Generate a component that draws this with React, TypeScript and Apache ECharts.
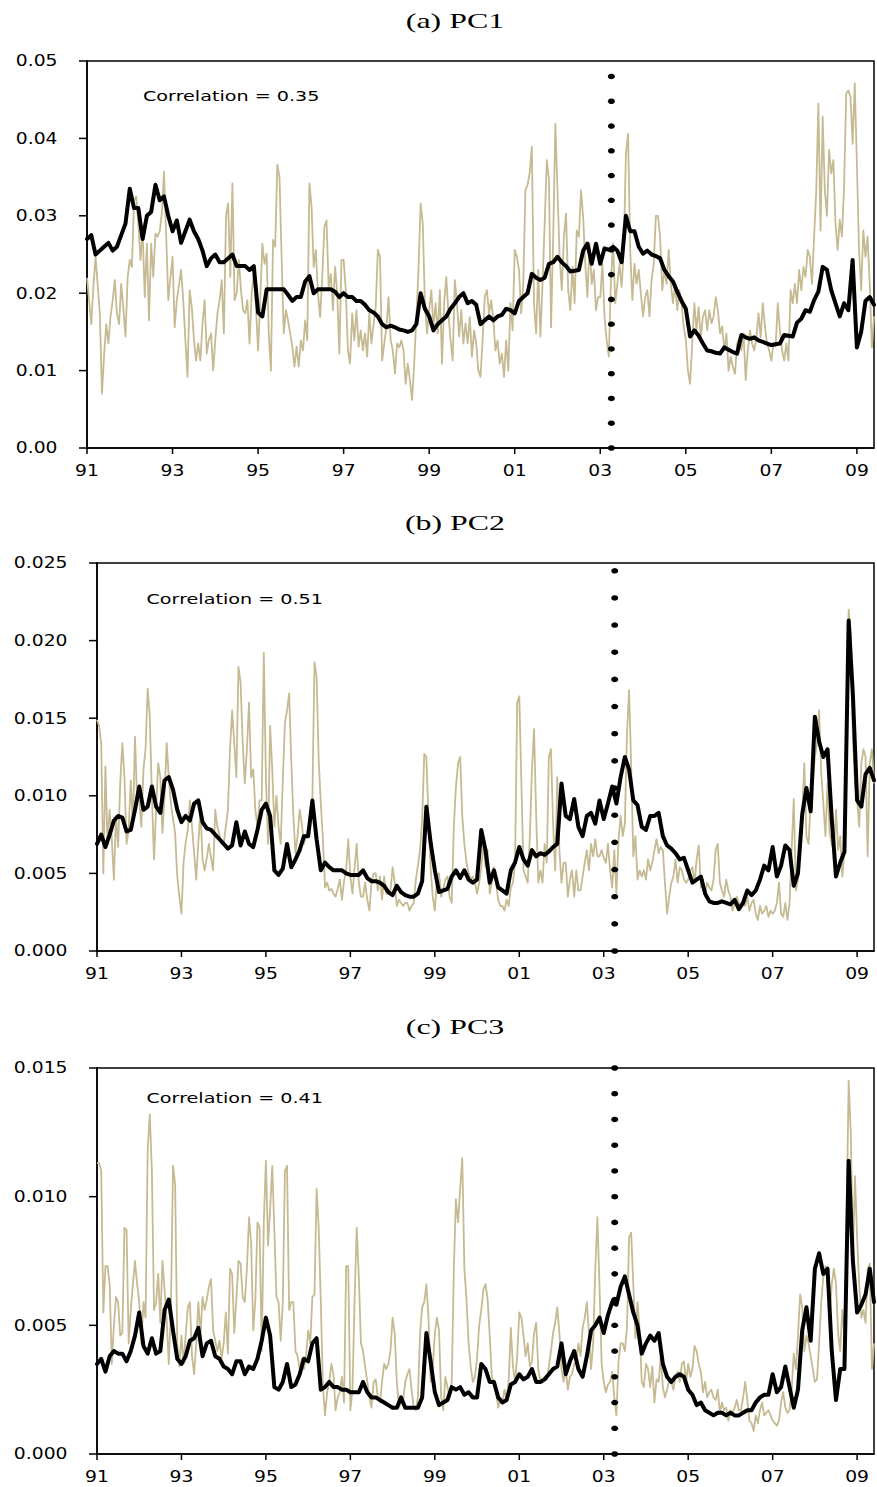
import React, { useEffect, useRef } from "react";
import * as echarts from "echarts";

// ---------- data ----------
// x is measured in years since 1991 (axis runs 1991.0 .. 2009.4)
const X_MAX = 18.4;
const TAN_STEP = 0.05; // tan series: one value every 0.05 year
const BLACK_STEP = 0.1; // black series: one value every 0.1 year
const EVENT_X = 12.26; // dotted vertical line, ~2003.26

const X_TICKS = [0, 2, 4, 6, 8, 10, 12, 14, 16, 18];
const X_TICK_LABELS = ["91", "93", "95", "97", "99", "01", "03", "05", "07", "09"];

const PC1_Y_TICKS = [0, 0.01, 0.02, 0.03, 0.04, 0.05];
const PC1_Y_LABELS = ["0.00", "0.01", "0.02", "0.03", "0.04", "0.05"];
const PC2_Y_TICKS = [0, 0.005, 0.01, 0.015, 0.02, 0.025];
const PC2_Y_LABELS = ["0.000", "0.005", "0.010", "0.015", "0.020", "0.025"];
const PC3_Y_TICKS = [0, 0.005, 0.01, 0.015];
const PC3_Y_LABELS = ["0.000", "0.005", "0.010", "0.015"];

const PC1_DOTS = [0, 0.0032, 0.0064, 0.0096, 0.0128, 0.016, 0.0192, 0.0224, 0.0256, 0.0288, 0.032, 0.0352, 0.0384, 0.0416, 0.0448, 0.048];
const PC2_DOTS = [0, 0.00175, 0.0035, 0.00525, 0.007, 0.00875, 0.0105, 0.01225, 0.014, 0.01575, 0.0175, 0.01925, 0.021, 0.02275, 0.0245];
const PC3_DOTS = [0, 0.001, 0.002, 0.003, 0.004, 0.005, 0.006, 0.007, 0.008, 0.009, 0.01, 0.011, 0.012, 0.013, 0.014, 0.015];

const PC1_BLACK = [
  0.027, 0.0275, 0.025, 0.0255, 0.026, 0.0265, 0.0255, 0.026, 0.0275, 0.029, // 1991
  0.0335, 0.031, 0.031, 0.027, 0.03, 0.0305, 0.034, 0.032, 0.0325, 0.03, // 1992
  0.028, 0.0294, 0.0265, 0.028, 0.0295, 0.028, 0.027, 0.0255, 0.0235, 0.0245, // 1993
  0.025, 0.024, 0.024, 0.0245, 0.025, 0.0235, 0.0235, 0.0235, 0.023, 0.0235, // 1994
  0.0175, 0.017, 0.0205, 0.0205, 0.0205, 0.0205, 0.0205, 0.0198, 0.019, 0.0195, // 1995
  0.0195, 0.0215, 0.0222, 0.02, 0.0205, 0.0205, 0.0205, 0.0205, 0.0202, 0.0195, // 1996
  0.02, 0.0195, 0.0195, 0.019, 0.019, 0.0185, 0.0178, 0.0175, 0.017, 0.016, // 1997
  0.0156, 0.0158, 0.0156, 0.0153, 0.0152, 0.015, 0.0152, 0.016, 0.02, 0.018, // 1998
  0.017, 0.0152, 0.016, 0.0165, 0.017, 0.018, 0.0187, 0.0195, 0.02, 0.0187, // 1999
  0.019, 0.0185, 0.016, 0.0165, 0.017, 0.0165, 0.017, 0.0172, 0.018, 0.0178, // 2000
  0.0174, 0.019, 0.0195, 0.02, 0.0225, 0.022, 0.0217, 0.022, 0.0238, 0.024, // 2001
  0.0247, 0.024, 0.0235, 0.0228, 0.0229, 0.023, 0.0255, 0.0264, 0.0238, 0.0264, // 2002
  0.0238, 0.0258, 0.0256, 0.026, 0.0255, 0.024, 0.03, 0.028, 0.028, 0.026, // 2003
  0.0251, 0.0255, 0.025, 0.0248, 0.0245, 0.023, 0.0222, 0.0215, 0.0202, 0.019, // 2004
  0.018, 0.0144, 0.0152, 0.0145, 0.0135, 0.0126, 0.0125, 0.0123, 0.0122, 0.013, // 2005
  0.0127, 0.0124, 0.0122, 0.0146, 0.0143, 0.0141, 0.0143, 0.0139, 0.0137, 0.0135, // 2006
  0.0133, 0.0134, 0.0135, 0.0146, 0.0145, 0.0144, 0.0162, 0.0167, 0.0178, 0.0176, // 2007
  0.0191, 0.0202, 0.0234, 0.023, 0.0204, 0.0187, 0.017, 0.0187, 0.0178, 0.0243, // 2008
  0.013, 0.015, 0.019, 0.0195, 0.0185, // 2009
];

const PC1_TAN = [
  0.022, 0.019, 0.016, 0.021, 0.0247, 0.021, 0.0174, 0.007, 0.012, 0.016, 0.0135, 0.017, 0.019, 0.0217, 0.0174, 0.016, 0.0212, 0.018, 0.0144, 0.022, // 1991
  0.0243, 0.0234, 0.032, 0.0325, 0.029, 0.0243, 0.0281, 0.0195, 0.0264, 0.0165, 0.0264, 0.0221, 0.0277, 0.0273, 0.028, 0.0303, 0.0357, 0.0277, 0.0191, 0.022, // 1992
  0.0247, 0.0156, 0.0191, 0.021, 0.023, 0.0191, 0.0139, 0.0092, 0.0204, 0.0182, 0.014, 0.0113, 0.0135, 0.0113, 0.016, 0.0191, 0.0122, 0.014, 0.0148, 0.01, // 1993
  0.014, 0.0174, 0.0191, 0.0217, 0.0148, 0.0299, 0.0316, 0.0221, 0.0342, 0.0191, 0.02, 0.0243, 0.0204, 0.0178, 0.0174, 0.0191, 0.0135, 0.02, 0.0225, 0.0182, // 1994
  0.0126, 0.019, 0.0264, 0.0238, 0.0251, 0.0148, 0.01, 0.0269, 0.026, 0.0366, 0.035, 0.0247, 0.0148, 0.0178, 0.0165, 0.0148, 0.0131, 0.0105, 0.0131, 0.0105, // 1995
  0.0139, 0.0126, 0.0165, 0.0139, 0.0342, 0.0312, 0.0234, 0.0256, 0.02, 0.0169, 0.0221, 0.0286, 0.0294, 0.0208, 0.0225, 0.0178, 0.0234, 0.02, 0.0122, 0.0243, // 1996
  0.0243, 0.0204, 0.0126, 0.0109, 0.0174, 0.0139, 0.0178, 0.0131, 0.0152, 0.0126, 0.0148, 0.0118, 0.0174, 0.0135, 0.016, 0.0182, 0.0256, 0.0247, 0.0113, 0.0135, // 1997
  0.0156, 0.0195, 0.0139, 0.0126, 0.0096, 0.0135, 0.013, 0.0139, 0.0126, 0.0083, 0.0109, 0.0088, 0.0062, 0.0109, 0.0169, 0.023, 0.0316, 0.029, 0.0187, 0.0148, // 1998
  0.0178, 0.0204, 0.0156, 0.0187, 0.0148, 0.0204, 0.0109, 0.0187, 0.0221, 0.0174, 0.0139, 0.0113, 0.0217, 0.0187, 0.0144, 0.0178, 0.0135, 0.0161, 0.0135, 0.0169, // 1999
  0.0118, 0.0152, 0.0135, 0.01, 0.0092, 0.014, 0.0195, 0.0204, 0.0174, 0.0191, 0.0165, 0.0126, 0.0139, 0.0109, 0.0122, 0.0092, 0.0139, 0.01, 0.0187, 0.0152, // 2000
  0.0256, 0.0247, 0.023, 0.0174, 0.0212, 0.0333, 0.034, 0.0355, 0.0389, 0.0187, 0.0148, 0.023, 0.0144, 0.0212, 0.029, 0.0372, 0.0346, 0.0156, 0.0273, 0.0419, // 2001
  0.0333, 0.0247, 0.0204, 0.0273, 0.0303, 0.0204, 0.0178, 0.0234, 0.0187, 0.0281, 0.0273, 0.0333, 0.0299, 0.0238, 0.0195, 0.0264, 0.0212, 0.023, 0.0178, 0.0195, // 2002
  0.0195, 0.0238, 0.0169, 0.0139, 0.0118, 0.0217, 0.0264, 0.0187, 0.0212, 0.0238, 0.0208, 0.0256, 0.0381, 0.0406, 0.0256, 0.0191, 0.0238, 0.0212, 0.023, 0.0199, // 2003
  0.017, 0.0195, 0.0204, 0.017, 0.0217, 0.0238, 0.03, 0.03, 0.0273, 0.0204, 0.023, 0.0212, 0.0256, 0.0212, 0.0187, 0.0212, 0.0178, 0.0204, 0.0187, 0.0157, // 2004
  0.014, 0.01, 0.0083, 0.0135, 0.0187, 0.0152, 0.0182, 0.0143, 0.017, 0.0178, 0.0152, 0.0178, 0.0161, 0.017, 0.0195, 0.0178, 0.0148, 0.0157, 0.0126, 0.0148, // 2005
  0.01, 0.0118, 0.0105, 0.0096, 0.0135, 0.0143, 0.0126, 0.0148, 0.0088, 0.0126, 0.0152, 0.0135, 0.0126, 0.0143, 0.0174, 0.0143, 0.0187, 0.0157, 0.0135, 0.0126, // 2006
  0.0113, 0.0135, 0.0131, 0.0187, 0.0152, 0.0126, 0.0113, 0.0135, 0.0113, 0.0204, 0.0187, 0.0212, 0.0187, 0.023, 0.0204, 0.0234, 0.0221, 0.0256, 0.0247, 0.0212, // 2007
  0.0273, 0.0333, 0.0445, 0.0281, 0.0428, 0.0333, 0.03, 0.0385, 0.0355, 0.0372, 0.029, 0.0256, 0.0295, 0.0273, 0.0337, 0.0458, 0.0462, 0.0454, 0.0393, 0.0471, // 2008
  0.0368, 0.0256, 0.0204, 0.0281, 0.0247, 0.0273, 0.0212, 0.013, 0.017, // 2009
];

const PC2_BLACK = [
  0.0069, 0.0075, 0.0067, 0.0075, 0.0084, 0.0087, 0.0086, 0.0077, 0.0078, 0.0091, // 1991
  0.0106, 0.0091, 0.0093, 0.0106, 0.0093, 0.0089, 0.011, 0.0112, 0.0104, 0.0091, // 1992
  0.0083, 0.0087, 0.0084, 0.0095, 0.0097, 0.0083, 0.0079, 0.0078, 0.0075, 0.0072, // 1993
  0.0069, 0.0066, 0.0068, 0.0083, 0.0068, 0.0077, 0.0069, 0.0067, 0.0078, 0.0091, // 1994
  0.0095, 0.0087, 0.0052, 0.0049, 0.0053, 0.0069, 0.0054, 0.0059, 0.0065, 0.0074, // 1995
  0.0074, 0.0097, 0.0072, 0.0052, 0.0057, 0.0054, 0.0052, 0.0052, 0.0052, 0.005, // 1996
  0.0049, 0.0049, 0.0049, 0.0052, 0.0047, 0.0045, 0.0045, 0.0044, 0.0042, 0.0038, // 1997
  0.0036, 0.0042, 0.0038, 0.0036, 0.0035, 0.0035, 0.0037, 0.0045, 0.0093, 0.007, // 1998
  0.0052, 0.0038, 0.0039, 0.004, 0.0048, 0.0052, 0.0047, 0.0052, 0.0046, 0.0044, // 1999
  0.0046, 0.0078, 0.0065, 0.0044, 0.0052, 0.0041, 0.0039, 0.0037, 0.0052, 0.0057, // 2000
  0.0067, 0.0059, 0.0055, 0.0065, 0.0061, 0.0063, 0.0062, 0.0064, 0.0067, 0.0069, // 2001
  0.0108, 0.0087, 0.0085, 0.0098, 0.008, 0.0074, 0.0087, 0.0089, 0.0082, 0.0097, // 2002
  0.0085, 0.0095, 0.0106, 0.0095, 0.0112, 0.0125, 0.0117, 0.0097, 0.0094, 0.008, // 2003
  0.0078, 0.0087, 0.0087, 0.0089, 0.0074, 0.0068, 0.0066, 0.0063, 0.0059, 0.006, // 2004
  0.0052, 0.0044, 0.0046, 0.0048, 0.0037, 0.0032, 0.0031, 0.0031, 0.0032, 0.0031, // 2005
  0.003, 0.0033, 0.0027, 0.0031, 0.0039, 0.0036, 0.0039, 0.0046, 0.0055, 0.0052, // 2006
  0.0067, 0.0048, 0.0055, 0.0068, 0.0065, 0.0042, 0.005, 0.0088, 0.0105, 0.009, // 2007
  0.0151, 0.0135, 0.0125, 0.013, 0.0085, 0.0048, 0.0057, 0.0064, 0.0213, 0.0165, // 2008
  0.0097, 0.0093, 0.0114, 0.0118, 0.011, // 2009
];

const PC2_TAN = [
  0.0149, 0.0145, 0.0134, 0.005, 0.0119, 0.0069, 0.0091, 0.0072, 0.0046, 0.0087, 0.0067, 0.0108, 0.0134, 0.0112, 0.0069, 0.0078, 0.011, 0.008, 0.0138, 0.0097, // 1991
  0.0097, 0.008, 0.0117, 0.013, 0.0169, 0.0151, 0.01, 0.0059, 0.0091, 0.0121, 0.0112, 0.0076, 0.01, 0.0134, 0.0112, 0.0095, 0.0085, 0.0076, 0.0048, 0.0035, // 1992
  0.0024, 0.0057, 0.007, 0.0078, 0.0097, 0.008, 0.0063, 0.0046, 0.007, 0.0091, 0.0059, 0.0052, 0.006, 0.0069, 0.006, 0.0052, 0.0091, 0.008, 0.0075, 0.0069, // 1993
  0.0069, 0.008, 0.0091, 0.013, 0.0155, 0.0134, 0.0112, 0.0183, 0.0173, 0.0134, 0.0108, 0.013, 0.016, 0.0112, 0.0117, 0.0091, 0.008, 0.0097, 0.0097, 0.0192, // 1994
  0.0112, 0.0069, 0.0145, 0.0117, 0.008, 0.01, 0.008, 0.0069, 0.011, 0.0147, 0.0155, 0.0166, 0.0123, 0.0087, 0.0063, 0.0074, 0.0091, 0.0082, 0.0069, 0.0074, // 1995
  0.008, 0.008, 0.0097, 0.0186, 0.0177, 0.0123, 0.0095, 0.0072, 0.0041, 0.0044, 0.0039, 0.004, 0.0037, 0.0035, 0.004, 0.0046, 0.0033, 0.0045, 0.0052, 0.0072, // 1996
  0.0048, 0.0037, 0.0054, 0.0069, 0.0044, 0.0035, 0.0035, 0.0044, 0.0033, 0.0026, 0.0044, 0.005, 0.005, 0.0039, 0.0048, 0.0033, 0.0048, 0.0037, 0.0037, 0.0039, // 1997
  0.0054, 0.0044, 0.0029, 0.0033, 0.0031, 0.0029, 0.0031, 0.0031, 0.0026, 0.0029, 0.0031, 0.0046, 0.0055, 0.0065, 0.0085, 0.0127, 0.0125, 0.0087, 0.0054, 0.0035, // 1998
  0.0026, 0.0046, 0.005, 0.0035, 0.004, 0.0046, 0.0048, 0.0035, 0.0031, 0.008, 0.0106, 0.0121, 0.0125, 0.0087, 0.0069, 0.0057, 0.005, 0.0046, 0.0048, 0.0044, // 1999
  0.0037, 0.0044, 0.0054, 0.0069, 0.0054, 0.0065, 0.0037, 0.0044, 0.0054, 0.0044, 0.0033, 0.0029, 0.0029, 0.0026, 0.0033, 0.0029, 0.0041, 0.0044, 0.0057, 0.016, // 2000
  0.0164, 0.0108, 0.0052, 0.0048, 0.0044, 0.0074, 0.0117, 0.0143, 0.0087, 0.0044, 0.0052, 0.0044, 0.0069, 0.0057, 0.0125, 0.013, 0.0082, 0.0052, 0.0112, 0.0065, // 2001
  0.0044, 0.0057, 0.0057, 0.0035, 0.0046, 0.0052, 0.0035, 0.0052, 0.0039, 0.0039, 0.0048, 0.0057, 0.0065, 0.0052, 0.0069, 0.0061, 0.0072, 0.0061, 0.0061, 0.0065, // 2002
  0.006, 0.0057, 0.0069, 0.0052, 0.0041, 0.0065, 0.0037, 0.0072, 0.0087, 0.0074, 0.0082, 0.014, 0.0168, 0.0119, 0.0061, 0.0074, 0.0046, 0.0052, 0.0048, 0.0052, // 2003
  0.0046, 0.0059, 0.0052, 0.0057, 0.0065, 0.0072, 0.0063, 0.0067, 0.0065, 0.0044, 0.0024, 0.0035, 0.0044, 0.0048, 0.0059, 0.0044, 0.0054, 0.0052, 0.0046, 0.0044, // 2004
  0.0046, 0.0052, 0.0054, 0.0044, 0.0059, 0.0068, 0.0041, 0.0046, 0.0035, 0.0044, 0.0041, 0.0039, 0.0046, 0.0065, 0.0069, 0.0044, 0.0039, 0.0035, 0.0046, 0.0039, // 2005
  0.0035, 0.0026, 0.0031, 0.0035, 0.0031, 0.0029, 0.0033, 0.0029, 0.0035, 0.0026, 0.0031, 0.0033, 0.0024, 0.002, 0.0029, 0.0024, 0.0026, 0.0029, 0.0022, 0.0026, // 2006
  0.0024, 0.0026, 0.0031, 0.0044, 0.0024, 0.0022, 0.0031, 0.002, 0.0031, 0.0065, 0.0098, 0.0039, 0.0046, 0.0065, 0.0087, 0.0121, 0.0074, 0.0069, 0.0095, 0.0108, // 2007
  0.0125, 0.0134, 0.0155, 0.0115, 0.0095, 0.0074, 0.0108, 0.0076, 0.0069, 0.0065, 0.0091, 0.0065, 0.0074, 0.0048, 0.0065, 0.0155, 0.022, 0.0205, 0.0138, 0.0108, // 2008
  0.0097, 0.008, 0.0121, 0.013, 0.0125, 0.0061, 0.0121, 0.013, 0.0108, // 2009
];

const PC3_BLACK = [
  0.0035, 0.0037, 0.0032, 0.0038, 0.004, 0.0039, 0.0039, 0.0036, 0.004, 0.0046, // 1991
  0.0055, 0.0042, 0.0039, 0.0045, 0.0039, 0.004, 0.0056, 0.006, 0.0048, 0.0037, // 1992
  0.0035, 0.0038, 0.0044, 0.0045, 0.0049, 0.0038, 0.0043, 0.0044, 0.0038, 0.0037, // 1993
  0.0034, 0.0033, 0.0031, 0.0036, 0.0036, 0.0031, 0.0034, 0.0033, 0.0037, 0.0044, // 1994
  0.0053, 0.0046, 0.0026, 0.0025, 0.0028, 0.0035, 0.0026, 0.0027, 0.0031, 0.0037, // 1995
  0.0036, 0.0043, 0.0045, 0.0025, 0.0026, 0.0028, 0.0026, 0.0026, 0.0025, 0.0025, // 1996
  0.0024, 0.0024, 0.0024, 0.0028, 0.0024, 0.0022, 0.0022, 0.0021, 0.002, 0.0019, // 1997
  0.0018, 0.0018, 0.0022, 0.0018, 0.0018, 0.0018, 0.0018, 0.0022, 0.0047, 0.0036, // 1998
  0.0024, 0.0019, 0.002, 0.0021, 0.0026, 0.0025, 0.0026, 0.0023, 0.0024, 0.0022, // 1999
  0.0022, 0.0035, 0.0033, 0.0028, 0.0028, 0.0022, 0.002, 0.0021, 0.0027, 0.0028, // 2000
  0.0031, 0.0029, 0.003, 0.0033, 0.0028, 0.0028, 0.0029, 0.0031, 0.0033, 0.0034, // 2001
  0.0043, 0.0031, 0.0036, 0.004, 0.0033, 0.003, 0.0038, 0.0048, 0.005, 0.0053, // 2002
  0.0047, 0.0054, 0.0059, 0.0058, 0.0065, 0.0069, 0.0062, 0.0055, 0.005, 0.0039, // 2003
  0.0043, 0.0046, 0.0044, 0.0047, 0.0035, 0.003, 0.0028, 0.003, 0.0031, 0.003, // 2004
  0.0025, 0.0023, 0.0019, 0.002, 0.0017, 0.0016, 0.0015, 0.0016, 0.0016, 0.0015, // 2005
  0.0016, 0.0015, 0.0015, 0.0016, 0.0017, 0.0017, 0.002, 0.0022, 0.0023, 0.0023, // 2006
  0.0031, 0.0024, 0.0026, 0.0034, 0.0026, 0.0018, 0.0025, 0.0048, 0.0057, 0.0044, // 2007
  0.0072, 0.0078, 0.007, 0.0072, 0.004, 0.0021, 0.0033, 0.0033, 0.0114, 0.0075, // 2008
  0.0055, 0.0058, 0.0062, 0.0072, 0.0059, // 2009
];

const PC3_TAN = [
  0.0113, 0.0113, 0.011, 0.0055, 0.0073, 0.0073, 0.0066, 0.0035, 0.005, 0.0061, 0.0059, 0.0046, 0.0047, 0.0088, 0.0087, 0.0043, 0.0056, 0.0066, 0.0075, 0.0066, // 1991
  0.0059, 0.0043, 0.0059, 0.0053, 0.0118, 0.0132, 0.011, 0.0056, 0.0059, 0.007, 0.0051, 0.0075, 0.0064, 0.0052, 0.0035, 0.0056, 0.0112, 0.0105, 0.0043, 0.0034, // 1992
  0.0046, 0.0035, 0.0046, 0.0057, 0.0059, 0.0038, 0.0031, 0.0043, 0.0059, 0.0046, 0.0061, 0.0056, 0.006, 0.0065, 0.0068, 0.0048, 0.0044, 0.004, 0.0044, 0.0037, // 1993
  0.0043, 0.0055, 0.0039, 0.0072, 0.007, 0.0047, 0.006, 0.0075, 0.0074, 0.0061, 0.0059, 0.0072, 0.0092, 0.0082, 0.0048, 0.006, 0.009, 0.0088, 0.004, 0.009, // 1994
  0.0114, 0.0081, 0.0095, 0.0112, 0.0087, 0.0061, 0.0059, 0.0044, 0.0059, 0.011, 0.0112, 0.0056, 0.0059, 0.0059, 0.004, 0.0038, 0.0033, 0.0037, 0.0033, 0.0038, // 1995
  0.0048, 0.0043, 0.0061, 0.0062, 0.0103, 0.0088, 0.0059, 0.0026, 0.0015, 0.0024, 0.0028, 0.0035, 0.0031, 0.0017, 0.0022, 0.0024, 0.003, 0.002, 0.0073, 0.0073, // 1996
  0.0017, 0.0025, 0.006, 0.0088, 0.0069, 0.0043, 0.004, 0.0034, 0.0028, 0.0022, 0.0018, 0.0028, 0.0029, 0.0022, 0.002, 0.0028, 0.0035, 0.0033, 0.0035, 0.004, // 1997
  0.0053, 0.0047, 0.0028, 0.0018, 0.002, 0.0021, 0.0028, 0.0031, 0.0033, 0.0025, 0.0018, 0.0017, 0.0022, 0.0047, 0.0057, 0.0059, 0.0066, 0.0053, 0.0028, 0.0033, // 1998
  0.0047, 0.0053, 0.0048, 0.0022, 0.0017, 0.003, 0.0026, 0.0022, 0.0028, 0.0072, 0.0099, 0.009, 0.0103, 0.0115, 0.0072, 0.006, 0.0043, 0.0034, 0.0028, 0.003, // 1999
  0.0037, 0.005, 0.0056, 0.0064, 0.0066, 0.006, 0.0046, 0.003, 0.0028, 0.0024, 0.0018, 0.0021, 0.002, 0.0025, 0.0021, 0.0029, 0.0049, 0.0034, 0.0028, 0.0038, // 2000
  0.0055, 0.0053, 0.0046, 0.0038, 0.0043, 0.0034, 0.0036, 0.0047, 0.0051, 0.0033, 0.0028, 0.0029, 0.003, 0.0029, 0.0034, 0.004, 0.0047, 0.0051, 0.0057, 0.0047, // 2001
  0.0033, 0.0028, 0.0033, 0.0025, 0.003, 0.0031, 0.0035, 0.0036, 0.0043, 0.0038, 0.0049, 0.0053, 0.0059, 0.0047, 0.0033, 0.0043, 0.0072, 0.0092, 0.0065, 0.0035, // 2002
  0.0028, 0.0024, 0.0027, 0.0028, 0.0032, 0.0022, 0.0015, 0.0036, 0.0043, 0.0043, 0.004, 0.0049, 0.0084, 0.0086, 0.0066, 0.0045, 0.0059, 0.0048, 0.0028, 0.0026, // 2003
  0.0035, 0.0033, 0.0026, 0.0034, 0.002, 0.0029, 0.0028, 0.0038, 0.0026, 0.0022, 0.0025, 0.0029, 0.0028, 0.0025, 0.003, 0.0032, 0.0028, 0.0035, 0.0036, 0.0028, // 2004
  0.0035, 0.003, 0.0033, 0.0042, 0.004, 0.0035, 0.0032, 0.0024, 0.0028, 0.0022, 0.0024, 0.0025, 0.0022, 0.0021, 0.0025, 0.0016, 0.002, 0.0017, 0.0018, 0.0013, // 2005
  0.0017, 0.0016, 0.0018, 0.0021, 0.0017, 0.0017, 0.0022, 0.0028, 0.0021, 0.0013, 0.0012, 0.0009, 0.0015, 0.0012, 0.0017, 0.002, 0.0015, 0.0016, 0.0017, 0.0015, // 2006
  0.0013, 0.0012, 0.0011, 0.0013, 0.002, 0.0024, 0.0018, 0.0016, 0.0017, 0.0025, 0.0039, 0.0033, 0.0046, 0.0062, 0.0057, 0.004, 0.0046, 0.0043, 0.0038, 0.0033, // 2007
  0.0028, 0.0029, 0.0043, 0.0059, 0.0069, 0.0073, 0.0066, 0.0053, 0.0066, 0.0072, 0.0066, 0.0047, 0.004, 0.0056, 0.0046, 0.009, 0.0145, 0.0125, 0.0077, 0.0108, // 2008
  0.0084, 0.0066, 0.0053, 0.0056, 0.0051, 0.0072, 0.0074, 0.0033, 0.0043, // 2009
];

// ---------- styles / layout ----------
const TAN = "#c6ba93";
const INK = "#000000";

const PANELS = [
  {
    title: "(a) PC1", corr: "Correlation = 0.35",
    grid: { left: 87, top: 61, width: 787, height: 387 },
    yMax: 0.05, yInterval: 0.01, yTicks: PC1_Y_TICKS, yLabels: PC1_Y_LABELS,
    tan: PC1_TAN, black: PC1_BLACK, dots: PC1_DOTS,
    titleY: 20.5, corrX: 143, corrY: 97,
  },
  {
    title: "(b) PC2", corr: "Correlation = 0.51",
    grid: { left: 97, top: 563, width: 777, height: 388 },
    yMax: 0.025, yInterval: 0.005, yTicks: PC2_Y_TICKS, yLabels: PC2_Y_LABELS,
    tan: PC2_TAN, black: PC2_BLACK, dots: PC2_DOTS,
    titleY: 523, corrX: 146.5, corrY: 600,
  },
  {
    title: "(c) PC3", corr: "Correlation = 0.41",
    grid: { left: 97, top: 1068, width: 777, height: 386 },
    yMax: 0.015, yInterval: 0.005, yTicks: PC3_Y_TICKS, yLabels: PC3_Y_LABELS,
    tan: PC3_TAN, black: PC3_BLACK, dots: PC3_DOTS,
    titleY: 1027, corrX: 146.5, corrY: 1098.5,
  },
];

const LABEL_FONT = "DejaVu Sans";
const SCALE_X = 1.25;

export default function App() {
  const ref = useRef<HTMLDivElement>(null);

  useEffect(() => {
    if (!ref.current) return;
    const chart = echarts.init(ref.current, null, { renderer: "svg" });

    const grid = PANELS.map((p) => ({
      ...p.grid,
      show: true,
      borderColor: INK,
      borderWidth: 1.5,
      backgroundColor: "transparent",
      containLabel: false,
    }));

    const xAxis = PANELS.map((_, i) => ({
      type: "value",
      gridIndex: i,
      min: 0,
      max: X_MAX,
      interval: 2,
      axisLine: { show: true, onZero: false, lineStyle: { color: INK, width: 1.5 } },
      axisTick: { show: false },
      axisLabel: { show: false },
      splitLine: { show: false },
    }));

    const yAxis = PANELS.map((p, i) => ({
      type: "value",
      gridIndex: i,
      min: 0,
      max: p.yMax,
      interval: p.yInterval,
      axisLine: { show: true, onZero: false, lineStyle: { color: INK, width: 1.5 } },
      axisTick: { show: false },
      axisLabel: { show: false },
      splitLine: { show: false },
    }));

    const series: any[] = [];
    PANELS.forEach((p, i) => {
      series.push({
        type: "line",
        xAxisIndex: i,
        yAxisIndex: i,
        data: p.tan.map((v, k) => [k * TAN_STEP, v]),
        symbol: "none",
        lineStyle: { color: TAN, width: 1.8, join: "round" },
        z: 2,
        silent: true,
      });
      series.push({
        type: "line",
        xAxisIndex: i,
        yAxisIndex: i,
        data: p.black.map((v, k) => [k * BLACK_STEP, v]),
        symbol: "none",
        lineStyle: { color: INK, width: 4, join: "round", cap: "round" },
        z: 3,
        silent: true,
      });
      series.push({
        type: "scatter",
        xAxisIndex: i,
        yAxisIndex: i,
        data: p.dots.map((v) => [EVENT_X, v]),
        symbol: "circle",
        symbolSize: [7, 5.5],
        itemStyle: { color: INK, opacity: 1 },
        z: 4,
        silent: true,
        clip: false,
      });
    });

    chart.setOption({
      animation: false,
      backgroundColor: "#ffffff",
      grid,
      xAxis,
      yAxis,
      series,
    });

    // texts and tick marks positioned through the chart's own scales
    const graphic: any[] = [];
    PANELS.forEach((p, i) => {
      const finder = { gridIndex: i };
      p.yTicks.forEach((v, k) => {
        const pt = chart.convertToPixel(finder as any, [0, v]) as number[];
        graphic.push({
          type: "line",
          shape: { x1: pt[0] - 8, y1: pt[1], x2: pt[0], y2: pt[1] },
          style: { stroke: INK, lineWidth: 1.5 },
          silent: true,
        });
        graphic.push({
          type: "text",
          x: pt[0] - 29.5,
          y: pt[1],
          scaleX: SCALE_X,
          silent: true,
          style: {
            text: p.yLabels[k],
            fontFamily: LABEL_FONT,
            fontSize: 15,
            fill: INK,
            align: "right",
            verticalAlign: "middle",
            textAlign: "right",
            textVerticalAlign: "middle",
          },
        });
      });
      X_TICKS.forEach((v, k) => {
        const pt = chart.convertToPixel(finder as any, [v, 0]) as number[];
        graphic.push({
          type: "line",
          shape: { x1: pt[0], y1: pt[1], x2: pt[0], y2: pt[1] + 6 },
          style: { stroke: INK, lineWidth: 1.5 },
          silent: true,
        });
        graphic.push({
          type: "text",
          x: pt[0],
          y: pt[1] + 22.5,
          scaleX: SCALE_X,
          silent: true,
          style: {
            text: X_TICK_LABELS[k],
            fontFamily: LABEL_FONT,
            fontSize: 15,
            fill: INK,
            align: "center",
            verticalAlign: "middle",
            textAlign: "center",
            textVerticalAlign: "middle",
          },
        });
      });
      graphic.push({
        type: "text",
        x: 455,
        y: p.titleY,
        scaleX: 1.45,
        silent: true,
        style: {
          text: p.title,
          fontFamily: "Liberation Serif",
          fontSize: 22,
          fill: INK,
          align: "center",
          verticalAlign: "middle",
          textAlign: "center",
          textVerticalAlign: "middle",
        },
      });
      graphic.push({
        type: "text",
        x: p.corrX,
        y: p.corrY,
        scaleX: 1.42,
        silent: true,
        style: {
          text: p.corr,
          fontFamily: LABEL_FONT,
          fontSize: 13.5,
          fill: INK,
          align: "left",
          verticalAlign: "middle",
          textAlign: "left",
          textVerticalAlign: "middle",
        },
      });
    });

    chart.setOption({ graphic });

    return () => {
      chart.dispose();
    };
  }, []);

  return (
    <div
      ref={ref}
      style={{ position: "absolute", left: 0, top: 0, width: 877, height: 1487, background: "#ffffff" }}
    />
  );
}
